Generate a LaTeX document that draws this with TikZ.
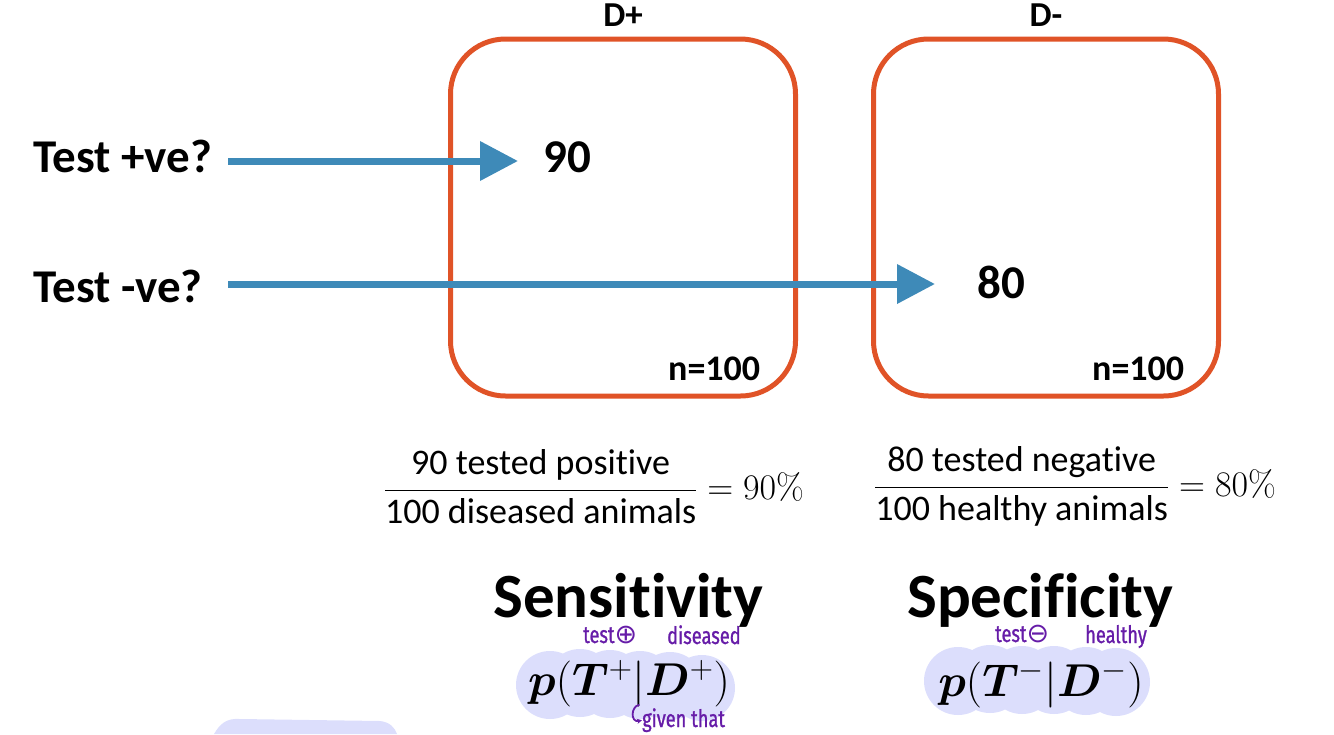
\documentclass[tikz,border=0pt]{standalone}
\usepackage{fix-cm}
\usepackage{amsmath}
\usepackage{bm}
\usepackage[no-math]{fontspec}
\setmainfont{Carlito}[Ligatures={NoCommon,NoContextual}]
\newfontfamily\handfont{Fira Sans}[FakeStretch=0.76, FakeBold=1]
\newfontfamily\symfont{DejaVu Sans}
\usetikzlibrary{arrows.meta}
\definecolor{boxorange}{RGB}{224,83,39}
\definecolor{arrowblue}{RGB}{62,138,184}
\definecolor{inkpurple}{RGB}{102,28,168}
\definecolor{hilite}{RGB}{220,222,252}
\tikzset{
  catbox/.style={draw=boxorange, line width=5pt, rounded corners=55pt,
    minimum width=345pt, minimum height=357pt, inner sep=0pt},
  bigbold/.style={inner sep=0pt, font=\bfseries\fontsize{47}{52}\selectfont},
  midbold/.style={inner sep=0pt, font=\bfseries\fontsize{35}{40}\selectfont},
  countbold/.style={inner sep=0pt, font=\bfseries\fontsize{36}{40}\selectfont},
  titlebold/.style={inner sep=0pt, font=\bfseries\fontsize{63}{70}\selectfont},
  fracnode/.style={inner sep=0pt, font=\fontsize{36}{42}\selectfont},
  formula/.style={inner sep=0pt, font=\fontsize{46}{52}\selectfont},
  hand/.style={inner sep=0pt, text=inkpurple, font=\handfont\fontsize{24}{26}\selectfont},
  bluearrow/.style={draw=arrowblue, line width=7pt,
    -{Triangle[length=38pt,width=38pt]}},
}
\newcommand{\circsym}[1]{{\symfont\fontsize{27}{27}\selectfont #1}}
\begin{document}
\begin{tikzpicture}[x=1pt,y=-1pt]
\useasboundingbox (0,0) rectangle (1334,734);
% highlighter blobs
\fill[hilite] (550,685) circle (34) (580,683) circle (34) (610,684) circle (34)
  (640,685) circle (34) (670,686) circle (34) (702,688) circle (33);
\fill[hilite] (958,681) circle (34) (990,679) circle (34) (1022,680) circle (34)
  (1054,680) circle (34) (1086,681) circle (34) (1116,682) circle (34);
\fill[hilite] (214,734) .. controls (220,724) and (226,718) .. (240,719)
  -- (380,721) .. controls (390,722) and (395,728) .. (397,734) -- cycle;
% boxes
\node[catbox] (dplus) at (623,217.5) {};
\node[catbox] (dminus) at (1046,217.5) {};
\node[midbold, anchor=base] (lplus) at (623,26) {D+};
\node[midbold, anchor=base] (lminus) at (1046,26) {D-};
\node[countbold, anchor=base west] (n1) at (668,380) {n=100};
\node[countbold, anchor=base west] (n2) at (1092,380) {n=100};
% row labels and counts
\node[bigbold, anchor=base west] (t1) at (33,172) {Test +ve?};
\node[bigbold, anchor=base west] (t2) at (33,302) {Test -ve?};
\node[bigbold, anchor=base west] (c90) at (543,172) {90};
\node[bigbold, anchor=base west] (c80) at (977,298) {80};
\coordinate (a1s) at (228,161);
\coordinate (a1e) at (518,161);
\coordinate (a2s) at (228,284);
\coordinate (a2e) at (935,284);
\draw[bluearrow] (a1s) -- (a1e);
\draw[bluearrow] (a2s) -- (a2e);
% fractions
\node[fracnode, anchor=base] (f1) at (594,499)
  {$\displaystyle\frac{\text{90 tested posit\kern0pt ive}}{\text{100 diseased animals}}=90\%$};
\node[fracnode, anchor=base] (f2) at (1075,496)
  {$\displaystyle\frac{\text{80 tested negat\kern0pt ive}}{\text{100 healthy animals}}=80\%$};
% titles
\node[titlebold, anchor=base west] (sens) at (493,617) {Sensit\kern0pt ivity};
\node[titlebold, anchor=base west] (spec) at (907,617) {Specif\kern0pt icity};
% formulas
\node[formula, anchor=base] (p1) at (629,695) {$\bm{p}(\bm{T}^{+}|\bm{D}^{+})$};
\node[formula, anchor=base] (p2) at (1041,696) {$\bm{p}(\bm{T}^{-}|\bm{D}^{-})$};
% handwritten notes
\node[hand, anchor=base west] (h1) at (583,643) {test\circsym{⊕}};
\node[hand, anchor=base west] (h2) at (667,644) {diseased};
\node[hand, anchor=base west] (h3) at (995,642) {test\circsym{⊖}};
\node[hand, anchor=base west] (h4) at (1085,643) {healthy};
\node[hand, anchor=base west] (h5) at (642,727) {given that};
\coordinate (hk) at (639,705);
\draw[inkpurple, line width=1.8pt, line cap=round, -{Stealth[length=5pt,width=5pt]}]
  (hk) .. controls (631,706) and (630,723) .. (h5.west);
\end{tikzpicture}
\end{document}
